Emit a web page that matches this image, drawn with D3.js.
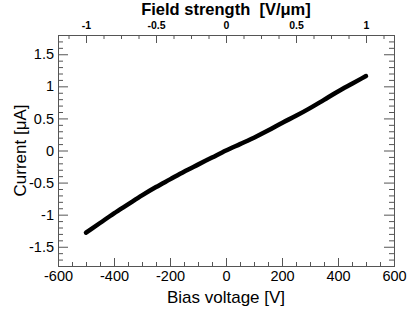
<!DOCTYPE html>
<html lang="en">
  <head>
    <meta charset="UTF-8" />
    <title>IV curve</title>
    <style>
      body { margin: 0; background: #fff; }
      text { font-family: "Liberation Sans", Arial, sans-serif; fill: #000; }
      .axis line { stroke: #555; }
    </style>
  </head>
  <body>
    <div id="wrapper"></div>
    <script src="https://d3js.org/d3.v7.min.js"></script>
    <script>
      // bias voltage [V] and current [uA]
      var voltage = [-500, -450, -400, -350, -300, -250, -200, -150, -100, -50, 0,
                     50, 100, 150, 200, 250, 300, 350, 400, 450, 500];
      var current = [-1.28, -1.13, -0.98, -0.84, -0.70, -0.57, -0.45, -0.33, -0.22, -0.11, 0.0,
                     0.10, 0.20, 0.31, 0.43, 0.54, 0.66, 0.79, 0.92, 1.04, 1.16];

      var xTicks = [-600, -400, -200, 0, 200, 400, 600];
      var xLabels = ["-600", "-400", "-200", "0", "200", "400", "600"];
      var yTicks = [-1.5, -1, -0.5, 0, 0.5, 1, 1.5];
      var yLabels = ["-1.5", "-1", "-0.5", "0", "0.5", "1", "1.5"];
      var fTicks = [-1, -0.5, 0, 0.5, 1];
      var fLabels = ["-1", "-0.5", "0", "0.5", "1"];

      var width = 415, height = 315;
      var margin = {top: 35, right: 21, bottom: 49, left: 58};
      var w = width - margin.left - margin.right,
          h = height - margin.top - margin.bottom;

      var svg = d3.select("#wrapper").append("svg")
          .attr("width", width)
          .attr("height", height);
      var g = svg.append("g")
          .attr("transform", "translate(" + margin.left + "," + margin.top + ")");

      var x = d3.scaleLinear().domain([-600, 600]).range([0, w]);
      var y = d3.scaleLinear().domain([-1.8, 1.8]).range([h, 0]);
      // field strength = V / 500 um
      var f = d3.scaleLinear().domain([-1.2, 1.2]).range([0, w]);

      var xMinor = d3.range(-550, 600, 50).filter(function(v) { return v % 200 !== 0; });
      var yMinor = d3.range(-17, 18).map(function(v) { return v / 10; })
          .filter(function(v) { return Math.abs(v * 2 - Math.round(v * 2)) > 1e-6; });
      var fMinor = d3.range(-9, 10).map(function(v) { return v * 0.125; })
          .filter(function(v) { return Math.abs(v * 2 - Math.round(v * 2)) > 1e-6; });

      function lab(ticks, labels) {
        return function(d) { return labels[ticks.indexOf(d)]; };
      }

      // bottom axis
      g.append("g").attr("class", "axis")
          .attr("transform", "translate(0," + h + ")")
          .call(d3.axisBottom(x).tickValues(xTicks).tickSize(-8).tickPadding(5)
                .tickFormat(lab(xTicks, xLabels)))
          .call(function(s) { s.select(".domain").remove(); s.selectAll("text").style("font-size", "14.5px"); });
      g.append("g").attr("class", "axis")
          .attr("transform", "translate(0," + h + ")")
          .call(d3.axisBottom(x).tickValues(xMinor).tickSize(-4).tickFormat(""))
          .call(function(s) { s.select(".domain").remove(); });

      // left axis
      g.append("g").attr("class", "axis")
          .call(d3.axisLeft(y).tickValues(yTicks).tickSize(-10).tickPadding(4)
                .tickFormat(lab(yTicks, yLabels)))
          .call(function(s) { s.select(".domain").remove(); s.selectAll("text").style("font-size", "14.5px"); });
      g.append("g").attr("class", "axis")
          .call(d3.axisLeft(y).tickValues(yMinor).tickSize(-5).tickFormat(""))
          .call(function(s) { s.select(".domain").remove(); });

      // right axis, ticks only
      g.append("g").attr("class", "axis")
          .attr("transform", "translate(" + w + ",0)")
          .call(d3.axisRight(y).tickValues(yTicks).tickSize(-10).tickFormat(""))
          .call(function(s) { s.select(".domain").remove(); });
      g.append("g").attr("class", "axis")
          .attr("transform", "translate(" + w + ",0)")
          .call(d3.axisRight(y).tickValues(yMinor).tickSize(-5).tickFormat(""))
          .call(function(s) { s.select(".domain").remove(); });

      // top axis (field strength)
      g.append("g").attr("class", "axis")
          .call(d3.axisTop(f).tickValues(fTicks).tickSize(-8).tickPadding(6)
                .tickFormat(lab(fTicks, fLabels)))
          .call(function(s) {
            s.select(".domain").remove();
            s.selectAll("text").style("font-size", "10.5px").style("font-weight", "bold");
          });
      g.append("g").attr("class", "axis")
          .call(d3.axisTop(f).tickValues(fMinor).tickSize(-4).tickFormat(""))
          .call(function(s) { s.select(".domain").remove(); });

      // frame
      g.append("rect")
          .attr("x", 0).attr("y", 0)
          .attr("width", w).attr("height", h)
          .attr("fill", "none")
          .attr("stroke", "#555")
          .attr("shape-rendering", "crispEdges");

      // the IV curve
      var pts = voltage.map(function(v, i) { return [v, current[i]]; });
      var line = d3.line()
          .x(function(d) { return x(d[0]); })
          .y(function(d) { return y(d[1]); })
          .curve(d3.curveMonotoneX);
      g.append("path")
          .datum(pts)
          .attr("d", line)
          .attr("fill", "none")
          .attr("stroke", "#000")
          .attr("stroke-width", 4.5)
          .attr("stroke-linecap", "round");

      // titles
      svg.append("text")
          .attr("x", margin.left + w / 2).attr("y", 303)
          .attr("text-anchor", "middle")
          .style("font-size", "17px")
          .text("Bias voltage [V]");
      svg.append("text")
          .attr("transform", "translate(26," + (margin.top + h / 2) + ") rotate(-90)")
          .attr("text-anchor", "middle")
          .style("font-size", "17px")
          .text("Current [\u03bcA]");
      svg.append("text")
          .attr("x", margin.left + w / 2).attr("y", 15)
          .attr("text-anchor", "middle")
          .style("font-size", "16.5px")
          .style("font-weight", "bold")
          .style("white-space", "pre")
          .text("Field strength  [V/\u03bcm]");
    </script>
  </body>
</html>
